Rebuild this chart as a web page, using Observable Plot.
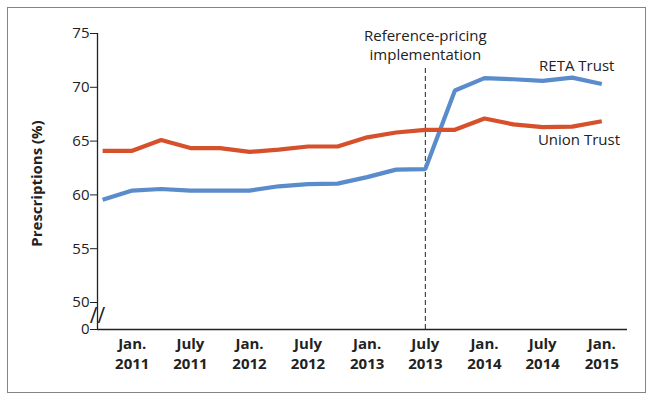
<!DOCTYPE html>
<html>
<head>
<meta charset="utf-8">
<script src="https://cdn.jsdelivr.net/npm/d3@7"></script>
<script src="https://cdn.jsdelivr.net/npm/@observablehq/plot@0.6"></script>
<style>
  body { margin: 0; background: #fff; }
  #wrap { position: relative; width: 654px; height: 402px; }
  #border { position: absolute; left: 7px; top: 7px; width: 637px; height: 384px; border: 1.5px solid #858585; pointer-events: none; }
  svg { display: block; }
</style>
</head>
<body>
<div id="wrap"><div id="border"></div></div>
<script>
const quarters = ["2010-10-01","2011-01-01","2011-04-01","2011-07-01","2011-10-01","2012-01-01","2012-04-01","2012-07-01","2012-10-01","2013-01-01","2013-04-01","2013-07-01","2013-10-01","2014-01-01","2014-04-01","2014-07-01","2014-10-01","2015-01-01"];
const retaTrust = [59.55, 60.4, 60.55, 60.4, 60.4, 60.4, 60.8, 61.0, 61.05, 61.65, 62.35, 62.4, 69.7, 70.85, 70.75, 70.6, 70.9, 70.3];
const unionTrust = [64.1, 64.1, 65.1, 64.35, 64.35, 64.0, 64.2, 64.5, 64.5, 65.35, 65.8, 66.05, 66.05, 67.1, 66.55, 66.3, 66.35, 66.85];
const xTicks = ["2011-01-01","2011-07-01","2012-01-01","2012-07-01","2013-01-01","2013-07-01","2014-01-01","2014-07-01","2015-01-01"];
const yTicks = [0, 50, 55, 60, 65, 70, 75];
const implementationDate = "2013-07-01";

const parse = d3.utcParse("%Y-%m-%d");
const rows = quarters.flatMap((q, i) => [
  {date: parse(q), value: retaTrust[i], series: "RETA Trust"},
  {date: parse(q), value: unionTrust[i], series: "Union Trust"}
]);
const xStart = parse("2010-09-15"), xEnd = parse("2015-03-22");
const impl = parse(implementationDate);
const monthName = d => d.getUTCMonth() === 0 ? "Jan." : "July";

const font = "'Open Sans', sans-serif";

const chart = Plot.plot({
  width: 654,
  height: 402,
  marginLeft: 97,
  marginRight: 27,
  marginTop: 33,
  marginBottom: 73,
  style: {fontFamily: font, background: "transparent", overflow: "visible"},
  x: {type: "utc", domain: [xStart, xEnd]},
  y: {type: "linear", domain: [0, 50, 75], range: [329, 302, 33]},
  color: {domain: ["RETA Trust", "Union Trust"], range: ["#5a8bcb", "#d6512b"]},
  marks: [
    Plot.axisY({ticks: yTicks, tickSize: 7, tickPadding: 1, fontSize: 15, color: "#222", label: null, tickFormat: d => String(d)}),
    Plot.axisX({ticks: xTicks.map(parse), tickSize: 0, tickPadding: 5, fontSize: 15, fontWeight: "bold", color: "#222", lineHeight: 1.35, label: null,
      tickFormat: d => monthName(d) + "\n" + d.getUTCFullYear()}),
    Plot.ruleX([xStart], {y1: 0, y2: 75, stroke: "#222", strokeWidth: 1.3}),
    Plot.ruleY([0], {x1: xStart, x2: xEnd, stroke: "#222", strokeWidth: 1.3}),
    Plot.text(["//"], {x: xStart, y: 24, fontSize: 21, fill: "#222", textAnchor: "middle"}),
    Plot.ruleX([impl], {y1: 0, y2: 72, stroke: "#222", strokeWidth: 1, strokeDasharray: "5,3"}),
    Plot.line(rows, {x: "date", y: "value", stroke: "series", z: "series", strokeWidth: 4.2, strokeLinejoin: "miter", strokeLinecap: "butt"}),
    Plot.text(["Reference-pricing\nimplementation"], {x: impl, y: 74, fontSize: 15, fill: "#222", lineHeight: 1.27, lineAnchor: "middle", textAnchor: "middle"}),
    Plot.text(["RETA Trust"], {x: parse("2014-10-15"), y: 72, fontSize: 15, fill: "#222", textAnchor: "middle"}),
    Plot.text(["Union Trust"], {x: parse("2014-10-22"), y: 65.05, fontSize: 15, fill: "#222", textAnchor: "middle"}),
    Plot.text(["Prescriptions (%)"], {frameAnchor: "left", rotate: -90, dx: -60, dy: 2, fontSize: 15, fontWeight: "bold", fill: "#222", textAnchor: "middle"})
  ]
});
document.getElementById("wrap").appendChild(chart);
</script>
</body>
</html>
